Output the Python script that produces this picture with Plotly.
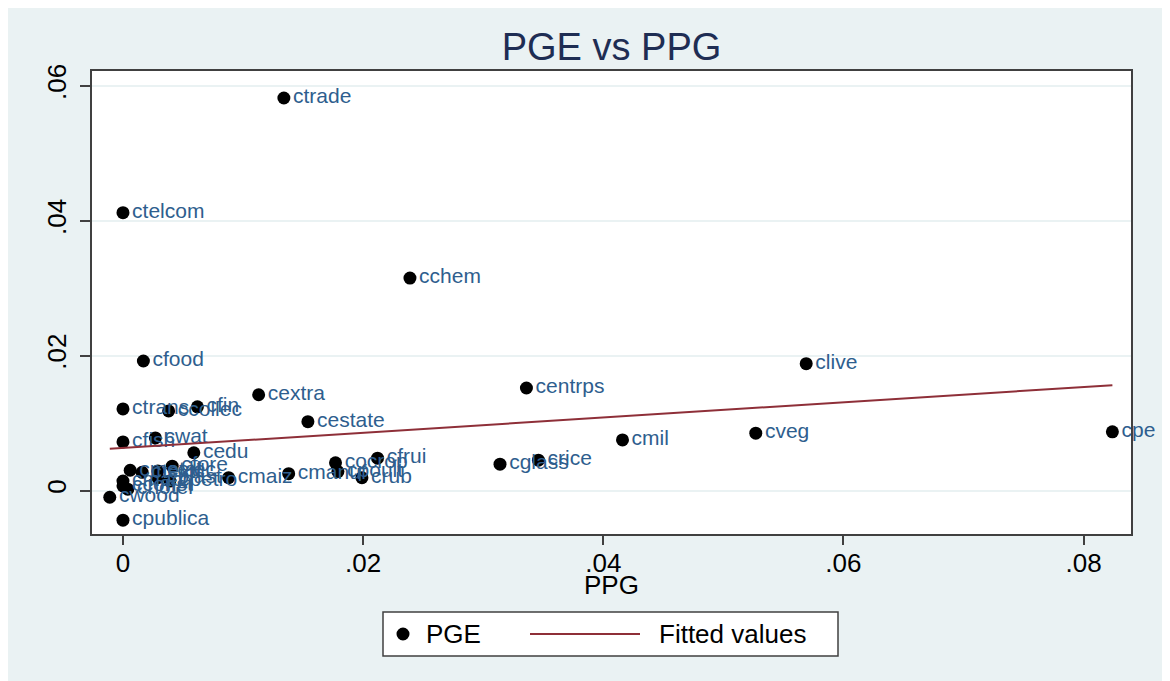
import plotly.graph_objects as go

# ---- data ----
sector = ["ctrade", "ctelcom", "cchem", "cfood", "clive", "centrps", "cextra",
          "ctrans", "cfin", "ccollec", "cestate", "cpe", "cveg", "cmil",
          "cfish", "cwat", "cedu", "cfrui", "crice", "cocrop", "cglass",
          "cmanuf", "cpoult", "crub", "cmaiz", "cwood", "cpublica",
          "cfore", "cmetal", "ctextil", "celec", "cplast", "cpetro",
          "cmach", "cconst", "chotel"]
ppg = [0.0134, 0.0000, 0.0239, 0.0017, 0.0569, 0.0336, 0.0113,
       0.0000, 0.0062, 0.0038, 0.0154, 0.0824, 0.0527, 0.0416,
       0.0000, 0.0027, 0.0059, 0.0212, 0.0346, 0.0177, 0.0314,
       0.0138, 0.0179, 0.0199, 0.0088, -0.0011, 0.0000,
       0.0041, 0.0006, 0.0016, 0.0029, 0.0029, 0.0039,
       0.0000, 0.0000, 0.0004]
pge = [0.0582, 0.0412, 0.0315, 0.0192, 0.0188, 0.0152, 0.0142,
       0.0121, 0.0124, 0.0118, 0.0102, 0.0087, 0.0085, 0.0075,
       0.0072, 0.0078, 0.0056, 0.0048, 0.0045, 0.0041, 0.0039,
       0.0025, 0.0028, 0.0019, 0.0019, -0.0010, -0.0044,
       0.0036, 0.0030, 0.0027, 0.0029, 0.0019, 0.0014,
       0.0014, 0.0007, 0.0002]
fit_intercept = 0.0063
fit_slope = 0.113

x_ticks = [0, 0.02, 0.04, 0.06, 0.08]
x_ticklabels = ["0", ".02", ".04", ".06", ".08"]
y_ticks = [0, 0.02, 0.04, 0.06]
y_ticklabels = ["0", ".02", ".04", ".06"]
legend_labels = ["PGE", "Fitted values"]
x_title = "PPG"

fit_x = [min(ppg), max(ppg)]
fit_y = [fit_intercept + fit_slope * v for v in fit_x]

FONT = "Liberation Sans, Arial, sans-serif"
BG = "#EAF2F3"
LABEL_BLUE = "#2E5E8E"
FIT_RED = "#8E2F38"
FRAME = "#404040"

fig = go.Figure()
fig.add_trace(go.Scatter(
    x=ppg, y=pge, mode="markers+text", name=legend_labels[0],
    text=sector, textposition="middle right",
    textfont=dict(family=FONT, size=21, color=LABEL_BLUE),
    marker=dict(color="black", size=13),
    cliponaxis=False, showlegend=False,
))
fig.add_trace(go.Scatter(
    x=fit_x, y=fit_y, mode="lines", name=legend_labels[1],
    line=dict(color=FIT_RED, width=2), showlegend=False,
))

# figure sits at (8, 8) inside the page
W, H = 1154, 673
ml, mr, mt, mb = 84, 31, 63, 147
pw, ph = W - ml - mr, H - mt - mb


def px_x(p):
    return (p - ml) / pw


def px_y(p):
    return (H - mb - p) / ph


# hand-drawn legend box (Stata style)
lx0, lx1, ly0, ly1 = 375, 830, 604, 648
lcy = (ly0 + ly1) / 2
shapes = [
    dict(type="rect", xref="paper", yref="paper",
         x0=px_x(lx0), x1=px_x(lx1), y0=px_y(ly1), y1=px_y(ly0),
         fillcolor="white", line=dict(color=FRAME, width=1.5), layer="above"),
    dict(type="circle", xref="paper", yref="paper",
         x0=px_x(395 - 6.5), x1=px_x(395 + 6.5), y0=px_y(lcy + 6.5), y1=px_y(lcy - 6.5),
         fillcolor="black", line=dict(color="black", width=0), layer="above"),
    dict(type="line", xref="paper", yref="paper",
         x0=px_x(522), x1=px_x(632), y0=px_y(lcy), y1=px_y(lcy),
         line=dict(color=FIT_RED, width=2), layer="above"),
]
annotations = [
    dict(text=legend_labels[0], xref="paper", yref="paper", x=px_x(416), y=px_y(lcy),
         xanchor="left", yanchor="middle", showarrow=False,
         font=dict(family=FONT, size=26, color="black")),
    dict(text=legend_labels[1], xref="paper", yref="paper", x=px_x(649), y=px_y(lcy),
         xanchor="left", yanchor="middle", showarrow=False,
         font=dict(family=FONT, size=26, color="black")),
    dict(text=x_title, xref="paper", yref="paper", x=0.5, y=px_y(577),
         xanchor="center", yanchor="middle", showarrow=False,
         font=dict(family=FONT, size=26, color="black")),
]

fig.update_layout(
    width=W, height=H,
    margin=dict(l=ml, r=mr, t=mt, b=mb),
    paper_bgcolor=BG, plot_bgcolor="white",
    font=dict(family=FONT, color="black"),
    title=dict(text="PGE vs PPG", x=(ml + pw / 2) / W, xanchor="center",
               y=1 - 39 / H, yanchor="middle",
               font=dict(family=FONT, size=38, color="#1E2D53")),
    showlegend=False,
    shapes=shapes,
    annotations=annotations,
)
fig.update_xaxes(
    range=[-0.00258, 0.08395], tickvals=x_ticks, ticktext=x_ticklabels,
    ticks="outside", ticklen=9, tickcolor=FRAME, tickwidth=1.5,
    tickfont=dict(family=FONT, size=26, color="black"),
    ticklabelstandoff=-4,
    showgrid=False, zeroline=False,
    showline=True, linecolor=FRAME, linewidth=1.5, mirror=True,
)
fig.update_yaxes(
    range=[-0.00645, 0.0622], tickvals=y_ticks, ticktext=y_ticklabels,
    ticks="outside", ticklen=10, tickcolor=FRAME, tickwidth=1.5,
    tickangle=-90, tickfont=dict(family=FONT, size=26, color="black"),
    ticklabelstandoff=4,
    showgrid=True, gridcolor=BG, gridwidth=1.5, zeroline=False,
    showline=True, linecolor=FRAME, linewidth=1.5, mirror=True,
)

fig.write_html("out.html")
